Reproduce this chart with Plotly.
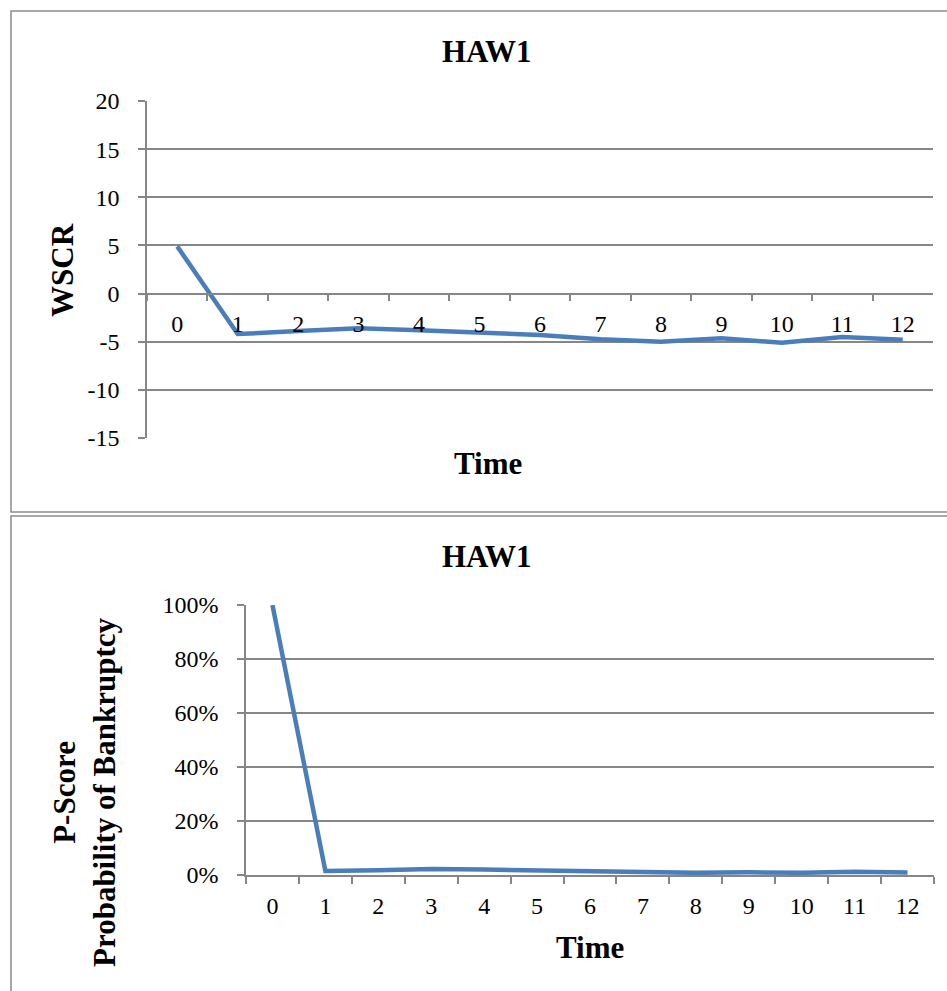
import plotly.graph_objects as go

# Period labels shared by both panels
periods = ["0", "1", "2", "3", "4", "5", "6", "7", "8", "9", "10", "11", "12"]

# Working-capital score per period
wscr = [4.9, -4.2, -3.9, -3.6, -3.8, -4.0, -4.3, -4.75, -5.0, -4.65, -5.1, -4.5, -4.8]

# Probability of bankruptcy per period (fraction)
p_score = [1.0, 0.015, 0.018, 0.022, 0.020, 0.017, 0.013, 0.010, 0.008, 0.010, 0.008, 0.012, 0.009]

# Value-axis ticks
wscr_ticks = [-15, -10, -5, 0, 5, 10, 15, 20]
p_ticks = [0, 0.2, 0.4, 0.6, 0.8, 1.0]

W, H = 947, 991
FONT = "Liberation Serif"
GRID = "#868686"
LINE = "#4a7ebb"


def px_x(p):
    return p / W


def px_y(p):
    return 1 - p / H


fig = go.Figure()

fig.add_trace(go.Scatter(x=periods, y=wscr, mode="lines", xaxis="x", yaxis="y",
                         line=dict(color=LINE, width=4.5),
                         showlegend=False, hoverinfo="skip"))
fig.add_trace(go.Scatter(x=periods, y=p_score, mode="lines", xaxis="x2", yaxis="y2",
                         line=dict(color=LINE, width=4.5),
                         showlegend=False, hoverinfo="skip"))

top_y = [px_y(438), px_y(101)]
y_lo, y_hi = wscr_ticks[0], wscr_ticks[-1]
zero_pos = top_y[0] + (0 - y_lo) / (y_hi - y_lo) * (top_y[1] - top_y[0])

tick_font = dict(family=FONT, size=24, color="black")
cat_range = [-0.5, len(periods) - 0.5]

common = dict(showline=True, linecolor=GRID, linewidth=1.5, ticks="outside",
              ticklen=7, tickcolor=GRID, tickwidth=1.5, tickfont=tick_font,
              automargin=False, fixedrange=True)

fig.update_layout(
    template="none",
    width=W, height=H,
    margin=dict(l=0, r=0, t=0, b=0, autoexpand=False),
    paper_bgcolor="white", plot_bgcolor="white",
    xaxis=dict(domain=[px_x(147), px_x(933)], type="category", range=cat_range,
               anchor="free", position=zero_pos, tickson="boundaries",
               showgrid=False, ticklabelstandoff=9, **common),
    yaxis=dict(domain=top_y, anchor="x", range=[y_lo, y_hi],
               tickvals=wscr_ticks, ticktext=[str(v) for v in wscr_ticks],
               showgrid=True, gridcolor=GRID, gridwidth=1.5, zeroline=False,
               ticklabelstandoff=14, **common),
    xaxis2=dict(domain=[px_x(246), px_x(934)], type="category", range=cat_range,
                anchor="y2", tickson="boundaries", showgrid=False,
                ticklabelstandoff=8, **common),
    yaxis2=dict(domain=[px_y(875), px_y(605)], anchor="x2", range=[0, 1],
                tickvals=p_ticks, ticktext=[f"{round(v * 100)}%" for v in p_ticks],
                showgrid=True, gridcolor=GRID, gridwidth=1.5, zeroline=False,
                ticklabelstandoff=14, **common),
)

# Panel frames
fig.add_shape(type="rect", xref="paper", yref="paper",
              x0=px_x(11), x1=px_x(960), y0=px_y(512), y1=px_y(11),
              line=dict(color="#8c8c8c", width=1.5), layer="below")
fig.add_shape(type="rect", xref="paper", yref="paper",
              x0=px_x(11), x1=px_x(960), y0=px_y(1010), y1=px_y(516),
              line=dict(color="#8c8c8c", width=1.5), layer="below")

bold = dict(family=FONT, size=31, color="black")


def label(text, x, y, angle=0):
    fig.add_annotation(text=text, x=px_x(x), y=px_y(y), xref="paper", yref="paper",
                       showarrow=False, font=bold, textangle=angle,
                       xanchor="center", yanchor="middle")


label("<b>HAW1</b>", 487, 52)
label("<b>Time</b>", 488, 463)
label("<b>WSCR</b>", 62, 270, -90)
label("<b>HAW1</b>", 487, 556)
label("<b>Time</b>", 590, 947)
label("<b>P-Score<br>Probability of Bankruptcy</b>", 84, 792, -90)

fig.write_html("out.html")
